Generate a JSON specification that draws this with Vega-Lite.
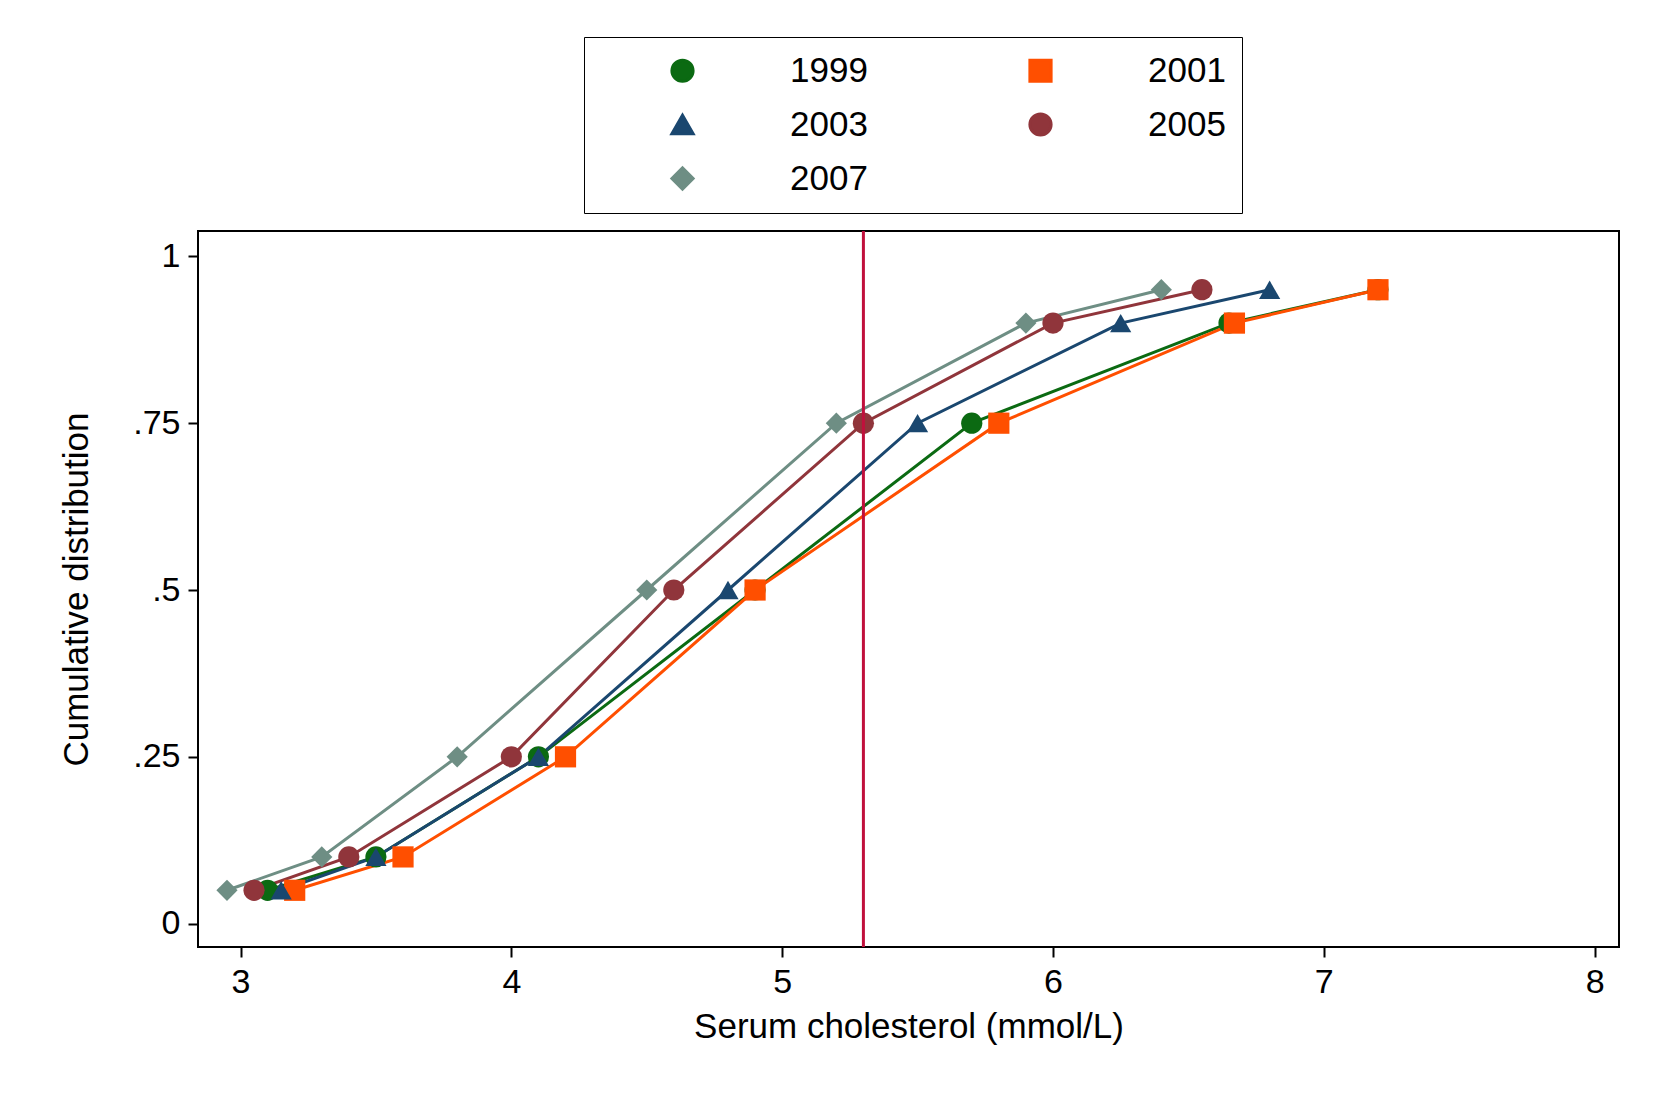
{
  "$schema": "https://vega.github.io/schema/vega-lite/v6.json",
  "width": 1421,
  "height": 716,
  "autosize": {"type": "none"},
  "padding": {"left": 198, "top": 231, "right": 51, "bottom": 168},
  "background": "white",
  "config": {
    "font": "Liberation Sans",
    "view": {"stroke": "black", "strokeWidth": 2}
  },
  "data": {"values": [
    {"year": "1999", "chol": 3.1, "cum": 0.05}, {"year": "1999", "chol": 3.5, "cum": 0.1}, {"year": "1999", "chol": 4.1, "cum": 0.25}, {"year": "1999", "chol": 4.9, "cum": 0.5}, {"year": "1999", "chol": 5.7, "cum": 0.75}, {"year": "1999", "chol": 6.65, "cum": 0.9}, {"year": "1999", "chol": 7.2, "cum": 0.95},
    {"year": "2001", "chol": 3.2, "cum": 0.05}, {"year": "2001", "chol": 3.6, "cum": 0.1}, {"year": "2001", "chol": 4.2, "cum": 0.25}, {"year": "2001", "chol": 4.9, "cum": 0.5}, {"year": "2001", "chol": 5.8, "cum": 0.75}, {"year": "2001", "chol": 6.67, "cum": 0.9}, {"year": "2001", "chol": 7.2, "cum": 0.95},
    {"year": "2003", "chol": 3.15, "cum": 0.05}, {"year": "2003", "chol": 3.5, "cum": 0.1}, {"year": "2003", "chol": 4.1, "cum": 0.25}, {"year": "2003", "chol": 4.8, "cum": 0.5}, {"year": "2003", "chol": 5.5, "cum": 0.75}, {"year": "2003", "chol": 6.25, "cum": 0.9}, {"year": "2003", "chol": 6.8, "cum": 0.95},
    {"year": "2005", "chol": 3.05, "cum": 0.05}, {"year": "2005", "chol": 3.4, "cum": 0.1}, {"year": "2005", "chol": 4.0, "cum": 0.25}, {"year": "2005", "chol": 4.6, "cum": 0.5}, {"year": "2005", "chol": 5.3, "cum": 0.75}, {"year": "2005", "chol": 6.0, "cum": 0.9}, {"year": "2005", "chol": 6.55, "cum": 0.95},
    {"year": "2007", "chol": 2.95, "cum": 0.05}, {"year": "2007", "chol": 3.3, "cum": 0.1}, {"year": "2007", "chol": 3.8, "cum": 0.25}, {"year": "2007", "chol": 4.5, "cum": 0.5}, {"year": "2007", "chol": 5.2, "cum": 0.75}, {"year": "2007", "chol": 5.9, "cum": 0.9}, {"year": "2007", "chol": 6.4, "cum": 0.95}
  ]},
  "layer": [
    {
      "mark": {"type": "line", "strokeWidth": 3, "point": {"filled": true, "size": 450, "opacity": 1}},
      "encoding": {
        "x": {"field": "chol", "type": "quantitative",
          "scale": {"domain": [2.843, 8.09], "nice": false, "zero": false},
          "axis": {"values": [3, 4, 5, 6, 7, 8], "format": "d", "title": "Serum cholesterol (mmol/L)", "titleFontSize": 35, "titleFontWeight": "normal", "titleColor": "black", "titlePadding": 10, "labelFontSize": 34, "labelColor": "black", "grid": false, "domain": false, "tickColor": "black", "tickSize": 10, "tickWidth": 2, "labelPadding": 8}},
        "y": {"field": "cum", "type": "quantitative",
          "scale": {"domain": [-0.035, 1.038], "nice": false, "zero": false},
          "axis": {"values": [0, 0.25, 0.5, 0.75, 1], "labelExpr": "datum.value == 0 ? '0' : datum.value == 1 ? '1' : replace(format(datum.value, '.2~f'), '0.', '.')", "title": "Cumulative distribution", "titleFontSize": 35, "titleFontWeight": "normal", "titleColor": "black", "titlePadding": 38, "labelFontSize": 34, "labelColor": "black", "grid": false, "domain": false, "tickColor": "black", "tickSize": 10, "tickWidth": 2, "labelPadding": 8}},
        "color": {"field": "year", "type": "nominal",
          "scale": {"domain": ["1999", "2001", "2003", "2005", "2007"], "range": ["#0b6a12", "#ff4f00", "#1a476f", "#90353b", "#6e8e84"]},
          "legend": {"orient": "none", "legendX": 386, "legendY": -194, "title": null, "columns": 2, "direction": "horizontal", "labelFontSize": 35, "labelColor": "black", "symbolSize": 450, "symbolStrokeWidth": 3, "columnPadding": 90, "rowPadding": 18, "padding": 16, "strokeColor": "black", "fillColor": "white", "labelLimit": 200, "labelOffset": 90, "symbolOffset": 65}},
        "shape": {"field": "year", "type": "nominal",
          "scale": {"domain": ["1999", "2001", "2003", "2005", "2007"], "range": ["circle", "square", "triangle-up", "circle", "diamond"]},
          "legend": null}
      }
    },
    {
      "data": {"values": [{"x": 5.3}]},
      "mark": {"type": "rule", "color": "#c0103c", "strokeWidth": 3},
      "encoding": {"x": {"field": "x", "type": "quantitative"}}
    }
  ]
}
